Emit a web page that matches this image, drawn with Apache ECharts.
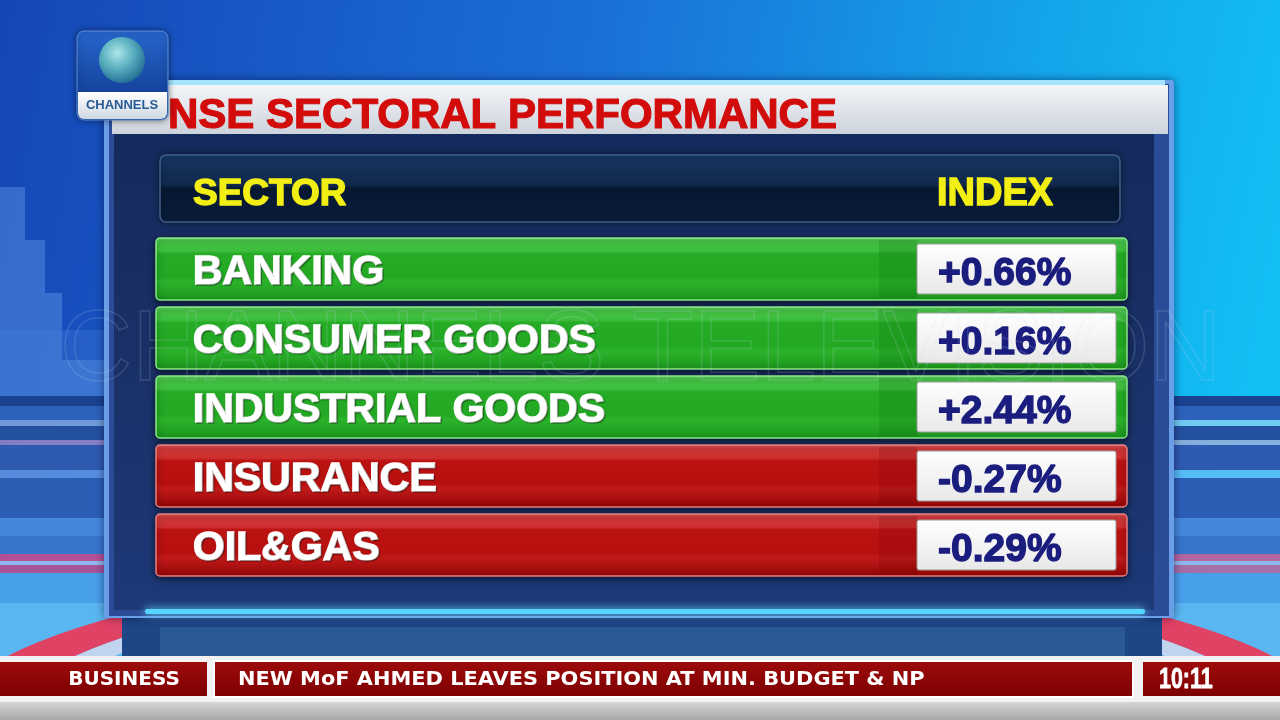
<!DOCTYPE html>
<html><head><meta charset="utf-8">
<script src="https://cdn.jsdelivr.net/npm/echarts@6/dist/echarts.min.js"></script>
<style>html,body{margin:0;padding:0;background:#1448b8;overflow:hidden}#c{width:1280px;height:720px}</style>
</head><body><div id="c"></div>
<script>
// ---- data ----
const chartTitle = 'NSE SECTORAL PERFORMANCE';
const columnHeaders = ['SECTOR', 'INDEX'];
const sectors = ['BANKING', 'CONSUMER GOODS', 'INDUSTRIAL GOODS', 'INSURANCE', 'OIL&GAS'];
const indexChange = [0.66, 0.16, 2.44, -0.27, -0.29];
const tickerSection = 'BUSINESS';
const tickerHeadline = 'NEW MoF AHMED LEAVES POSITION AT MIN. BUDGET & NP';
const clockText = '10:11';
const logoText = 'CHANNELS';
const watermarkText = 'CHANNELS TELEVISION';

function lin(stops, horiz) {
  return { type: 'linear', x: 0, y: 0, x2: horiz ? 1 : 0, y2: horiz ? 0 : 1,
    colorStops: stops.map(s => ({ offset: s[0], color: s[1] })) };
}
const FONT = "'Liberation Sans', Arial, sans-serif";

const chart = echarts.init(document.getElementById('c'), null, { renderer: 'canvas' });

const fmt = v => (v > 0 ? '+' : '') + v.toFixed(2) + '%';

const greenFill = lin([[0, '#74de74'], [0.06, '#48c848'], [0.22, '#3cbe3c'], [0.26, '#25ab25'], [0.62, '#22a822'], [0.7, '#2cb32c'], [1, '#1b961b']]);
const redFill = lin([[0, '#e26a6a'], [0.06, '#d53c3c'], [0.22, '#cf2e2e'], [0.26, '#bb1212'], [0.62, '#b80f0f'], [0.7, '#c01a1a'], [1, '#950505']]);

function renderRow(params, api) {
  const cs = params.coordSys;
  const idx = api.value(1);
  const pt = api.coord([0, idx]);
  const v = api.value(0);
  const cy = pt[1];
  const h = 62, top = cy - h / 2;
  const pos = v >= 0;
  const boxX = cs.x + 761, boxW = 199;
  return {
    type: 'group',
    children: [
      { type: 'rect', shape: { x: cs.x, y: top, width: cs.width, height: h, r: 4 },
        style: { fill: pos ? greenFill : redFill, stroke: pos ? '#8ae88a' : '#e88080', lineWidth: 1.5,
          shadowBlur: 7, shadowColor: 'rgba(0,0,0,0.6)', shadowOffsetY: 2 } },
      { type: 'rect', shape: { x: boxX - 38, y: top + 2, width: 38, height: h - 4 },
        style: { fill: pos ? 'rgba(0,90,0,0.16)' : 'rgba(90,0,0,0.16)' } },
      { type: 'rect', shape: { x: boxX, y: top + 6, width: boxW, height: h - 12, r: 2 },
        style: { fill: lin([[0, '#ffffff'], [1, '#e8e8e8']]), stroke: '#9a9a9a', lineWidth: 1 } },
      { type: 'text', style: { text: sectors[idx], x: cs.x + 37, y: cy + 4,
        fill: '#ffffff', stroke: '#ffffff', lineWidth: 1.6, font: 'bold 41px ' + FONT, align: 'left', verticalAlign: 'middle',
        textShadowColor: 'rgba(0,0,0,0.35)', textShadowBlur: 1, textShadowOffsetX: 1, textShadowOffsetY: 1 } },
      { type: 'text', style: { text: fmt(v), x: boxX + 21, y: cy + 5,
        fill: '#1b1d7e', stroke: '#1b1d7e', lineWidth: 1.4, font: 'bold 39px ' + FONT, align: 'left', verticalAlign: 'middle' } }
    ]
  };
}

const bgStreaks = [
  [396, 10, '#1a4290'], [406, 14, '#2d62ba'], [420, 6, 'rgba(190,215,240,0.55)'], [426, 14, '#23509f'],
  [440, 5, 'rgba(225,165,200,0.55)'], [445, 25, '#2e5ab0'], [470, 8, 'rgba(140,190,245,0.55)'], [478, 40, '#2c5eb6'],
  [518, 18, '#4488dc'], [536, 18, '#3676cc'], [554, 7, 'rgba(220,80,140,0.8)'], [561, 4, '#90b8ee'], [565, 8, 'rgba(215,85,140,0.75)'],
  [573, 30, '#48a0ea'], [603, 57, '#5ab6f0']
];

const graphics = [
  // background
  { type: 'rect', z: -10, shape: { x: 0, y: 0, width: 1280, height: 720 },
    style: { fill: { type: 'linear', x: 0, y: 0, x2: 1, y2: 0.35, colorStops: [
      { offset: 0, color: '#1546b6' }, { offset: 0.45, color: '#1a6fd6' }, { offset: 0.8, color: '#14a6ea' }, { offset: 1, color: '#12bff5' }] } } },
  { type: 'polygon', z: -9, shape: { points: [[0, 400], [0, 187], [25, 187], [25, 240], [45, 240], [45, 293], [62, 293], [62, 360], [108, 360], [108, 400]] },
    style: { fill: 'rgba(95,150,230,0.45)' } },
  { type: 'rect', z: -9, shape: { x: 0, y: 330, width: 108, height: 66 }, style: { fill: 'rgba(70,130,220,0.3)' } }
].concat(bgStreaks.map(s => ({ type: 'rect', z: -9, shape: { x: 0, y: s[0], width: 1280, height: s[1] }, style: { fill: s[2] } })))
.concat([
  { type: 'ring', z: -8, x: 640, y: 729, scaleY: 170 / 700,
    shape: { cx: 0, cy: 0, r: 700, r0: 640 }, style: { fill: 'rgba(232,60,92,0.95)' } },
  { type: 'ring', z: -8, x: 640, y: 729, scaleY: 170 / 700,
    shape: { cx: 0, cy: 0, r: 640, r0: 605 }, style: { fill: 'rgba(235,225,240,0.7)' } },
  // panel
  { type: 'rect', z: -5, shape: { x: 104, y: 80, width: 1070, height: 538, r: 3 },
    style: { fill: '#6a9ee6', shadowBlur: 10, shadowColor: 'rgba(0,0,40,0.5)' } },
  { type: 'rect', z: -5, shape: { x: 109, y: 84, width: 1060, height: 532 }, style: { fill: '#2a4c96' } },
  { type: 'rect', z: -5, shape: { x: 114, y: 134, width: 1040, height: 476 },
    style: { fill: lin([[0, '#152a5c'], [0.5, '#1a3168'], [1, '#1d3978']]) } },
  { type: 'rect', z: -5, shape: { x: 110, y: 80, width: 1055, height: 5 }, style: { fill: '#a5e4ff' } },
  { type: 'rect', z: -5, shape: { x: 112, y: 85, width: 1056, height: 49 },
    style: { fill: lin([[0, '#f3f5f8'], [1, '#cdd3dc']]) } },
  { type: 'rect', z: -5, shape: { x: 145, y: 609, width: 1000, height: 5, r: 2 },
    style: { fill: '#55d6ff', shadowBlur: 8, shadowColor: '#70e4ff' } },
  { type: 'rect', z: -6, shape: { x: 122, y: 616, width: 1040, height: 45 }, style: { fill: '#1d4686' } },
  { type: 'rect', z: -6, shape: { x: 160, y: 627, width: 965, height: 32 }, style: { fill: '#2b5896' } },
  // header row
  { type: 'rect', z: 1, shape: { x: 160, y: 155, width: 960, height: 67, r: 6 },
    style: { fill: lin([[0, '#183663'], [0.45, '#10284c'], [0.5, '#071730'], [1, '#0a1d3c']]),
      stroke: '#3f628c', lineWidth: 1.5, shadowBlur: 6, shadowColor: 'rgba(0,0,0,0.5)' } },
  { type: 'text', z: 3, x: 193, y: 195,
    style: { text: columnHeaders[0], fill: '#f3ef14', stroke: '#f3ef14', lineWidth: 1.4, font: 'bold 37px ' + FONT, align: 'left', verticalAlign: 'middle' } },
  { type: 'text', z: 3, x: 937, y: 195,
    style: { text: columnHeaders[1], fill: '#f3ef14', stroke: '#f3ef14', lineWidth: 1.4, font: 'bold 38px ' + FONT, align: 'left', verticalAlign: 'middle' } },
  // watermark
  { type: 'text', z: 30, x: 60, y: 352,
    style: { text: watermarkText, fill: 'rgba(0,0,0,0)', stroke: 'rgba(200,215,240,0.16)', lineWidth: 1.5,
      font: 'normal 100px ' + FONT, align: 'left', verticalAlign: 'middle' } },
  // logo
  { type: 'rect', z: 50, shape: { x: 77, y: 31, width: 91, height: 89, r: 7 },
    style: { fill: lin([[0, '#2766cc'], [1, '#0c3488']]), stroke: '#5b92de', lineWidth: 1,
      shadowBlur: 6, shadowColor: 'rgba(0,0,0,0.5)' } },
  { type: 'circle', z: 51, shape: { cx: 122, cy: 60, r: 23 },
    style: { fill: { type: 'radial', x: 0.4, y: 0.35, r: 0.7, colorStops: [
      { offset: 0, color: '#aee6ea' }, { offset: 0.5, color: '#58aebe' }, { offset: 1, color: '#1f6a92' }] } } },
  { type: 'rect', z: 51, shape: { x: 78, y: 92, width: 89, height: 27, r: [0, 0, 6, 6] },
    style: { fill: lin([[0, '#ffffff'], [1, '#cfd8e2']]) } },
  { type: 'text', z: 52, x: 122, y: 105,
    style: { text: logoText, fill: '#285a95', font: 'bold 13px ' + FONT, align: 'center', verticalAlign: 'middle' } },
  // ticker
  { type: 'rect', z: 20, shape: { x: 0, y: 656, width: 1280, height: 46 }, style: { fill: '#f2f2f2' } },
  { type: 'rect', z: 20, shape: { x: 0, y: 702, width: 1280, height: 18 }, style: { fill: lin([[0, '#d6d6d6'], [1, '#a9a9a9']]) } },
  { type: 'rect', z: 21, shape: { x: 0, y: 662, width: 207, height: 34 }, style: { fill: lin([[0, '#9e0b0b'], [1, '#7c0000']]) } },
  { type: 'rect', z: 21, shape: { x: 214, y: 661, width: 919, height: 36 },
    style: { fill: lin([[0, '#9e0b0b'], [1, '#7c0000']]), stroke: '#ffffff', lineWidth: 2 } },
  { type: 'rect', z: 21, shape: { x: 1143, y: 662, width: 137, height: 34 }, style: { fill: lin([[0, '#9e0b0b'], [1, '#7c0000']]) } },
  { type: 'text', z: 22, x: 124, y: 680,
    style: { text: tickerSection, fill: '#ffffff', font: "bold 20px 'DejaVu Sans', sans-serif", align: 'center', verticalAlign: 'middle' } },
  { type: 'text', z: 22, x: 238, y: 680, scaleX: 1.045,
    style: { text: tickerHeadline, fill: '#ffffff', font: "bold 20px 'DejaVu Sans', sans-serif", align: 'left', verticalAlign: 'middle' } },
  { type: 'text', z: 22, x: 1159, y: 680, scaleX: 0.74,
    style: { text: clockText, fill: '#ffffff', stroke: '#ffffff', lineWidth: 0.8, font: 'bold 29px ' + FONT, align: 'left', verticalAlign: 'middle' } }
]);

chart.setOption({
  animation: false,
  backgroundColor: 'transparent',
  title: {
    text: chartTitle, left: 163, top: 90, z: 10,
    textStyle: { color: '#d20b0b', fontSize: 42, fontWeight: 'bold', fontFamily: FONT,
      textBorderColor: '#d20b0b', textBorderWidth: 1.2 }
  },
  grid: { left: 156, right: 153, top: 234.5, height: 345, containLabel: false },
  xAxis: { type: 'value', min: -1, max: 3, show: false },
  yAxis: { type: 'category', data: sectors, inverse: true, show: false },
  graphic: { elements: graphics },
  series: [{
    type: 'custom',
    z: 5,
    renderItem: renderRow,
    encode: { x: 0, y: 1 },
    data: indexChange.map((v, i) => [v, i])
  }]
});
</script></body></html>
